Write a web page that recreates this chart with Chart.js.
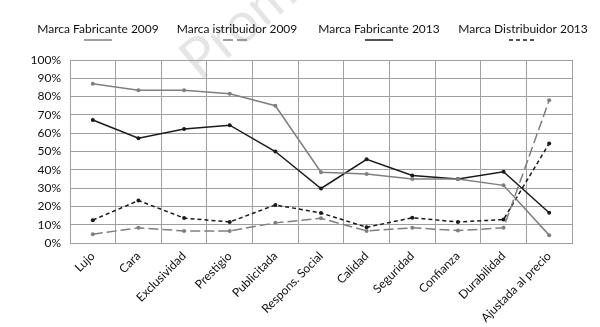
<!DOCTYPE html>
<html>
<head>
<meta charset="utf-8">
<script src="https://cdn.jsdelivr.net/npm/chart.js@4.4.1/dist/chart.umd.min.js"></script>
<style>
  html, body { margin: 0; padding: 0; background: #fff; }
  #wrap { width: 600px; height: 327px; position: relative; }
</style>
</head>
<body>
<div id="wrap"><canvas id="chart"></canvas></div>
<script>
// Categories (x axis)
const categories = ['Lujo', 'Cara', 'Exclusividad', 'Prestigio', 'Publicitada', 'Respons. Social',
  'Calidad', 'Seguridad', 'Confianza', 'Durabilidad', 'Ajustada al precio'];

// Series values, in percent
const fabricante2009 = [87, 83.5, 83.5, 81.5, 75, 38.7, 37.7, 35, 35, 31.5, 4.3];
const distribuidor2009 = [4.8, 8.3, 6.6, 6.6, 11, 13.5, 6.6, 8.3, 6.8, 8.3, 78];
const fabricante2013 = [67.2, 57.3, 62.3, 64.4, 50, 29.8, 45.7, 36.9, 35, 38.9, 16.5];
const distribuidor2013 = [12.5, 23.2, 13.6, 11.5, 20.8, 16.4, 8.6, 13.8, 11.5, 12.8, 54.4];

const seriesLabels = ['Marca Fabricante 2009', 'Marca istribuidor 2009', 'Marca Fabricante 2013', 'Marca Distribuidor 2013'];
const yTicks = [0, 10, 20, 30, 40, 50, 60, 70, 80, 90, 100];

const FONT = 'Lato, "Open Sans", sans-serif';
const GRAY = '#7f7f7f';
const BLACK = '#1a1a1a';

function makeSet(label, data, color, dash) {
  return {
    label: label,
    data: data,
    borderColor: color,
    backgroundColor: color,
    pointBackgroundColor: color,
    pointBorderColor: color,
    pointRadius: 2,
    pointBorderWidth: 0,
    borderWidth: 1.5,
    borderDash: dash,
    tension: 0,
    fill: false,
    clip: false
  };
}

// Legend drawn above the plot: text on top, line sample centred below
const topLegend = {
  id: 'topLegend',
  afterDraw(chart) {
    const ctx = chart.ctx;
    const centers = [98, 237, 379, 523];
    ctx.save();
    ctx.font = '12px ' + FONT;
    ctx.fillStyle = '#111';
    ctx.textAlign = 'center';
    ctx.textBaseline = 'middle';
    chart.data.datasets.forEach((ds, i) => {
      const cx = centers[i];
      ctx.fillText(ds.label, cx, 29);
      ctx.beginPath();
      ctx.strokeStyle = ds.borderColor;
      ctx.lineWidth = 1.5;
      ctx.setLineDash(ds.borderDash || []);
      ctx.moveTo(cx - 14, 40);
      ctx.lineTo(cx + 14, 40);
      ctx.stroke();
    });
    ctx.restore();
  }
};

// Faint watermark behind the plot
const watermark = {
  id: 'watermark',
  beforeDraw(chart) {
    const ctx = chart.ctx;
    ctx.save();
    ctx.translate(200, 82);
    ctx.rotate(-40 * Math.PI / 180);
    ctx.font = '56px ' + FONT;
    ctx.fillStyle = 'rgba(0,0,0,0.1)';
    ctx.textBaseline = 'alphabetic';
    ctx.fillText('Prom', 0, 0);
    ctx.restore();
  }
};

new Chart(document.getElementById('chart').getContext('2d'), {
  type: 'line',
  data: {
    labels: categories,
    datasets: [
      makeSet(seriesLabels[0], fabricante2009, GRAY, []),
      makeSet(seriesLabels[1], distribuidor2009, GRAY, [10, 4]),
      makeSet(seriesLabels[2], fabricante2013, BLACK, []),
      makeSet(seriesLabels[3], distribuidor2013, BLACK, [4, 3])
    ]
  },
  options: {
    responsive: true,
    maintainAspectRatio: false,
    animation: false,
    layout: { padding: { left: 8, right: 28, top: 60, bottom: 0 } },
    plugins: {
      legend: { display: false },
      tooltip: { enabled: false }
    },
    scales: {
      x: {
        offset: true,
        afterFit(axis) { axis.height = 84; },
        grid: { offset: true, color: '#a0a0a0', lineWidth: 1, drawTicks: false },
        border: { color: '#a0a0a0' },
        ticks: {
          color: '#111',
          font: { family: FONT, size: 12 },
          minRotation: 45,
          maxRotation: 45,
          padding: 6,
          autoSkip: false
        }
      },
      y: {
        min: 0,
        max: 100,
        afterFit(axis) { axis.width = 62; },
        afterBuildTicks(axis) { axis.ticks = yTicks.map(v => ({ value: v })); },
        grid: { color: '#a0a0a0', lineWidth: 1, drawTicks: false },
        border: { color: '#a0a0a0' },
        ticks: {
          color: '#111',
          font: { family: FONT, size: 12 },
          padding: 9,
          callback: v => v + '%'
        }
      }
    }
  },
  plugins: [watermark, topLegend]
});
</script>
</body>
</html>
